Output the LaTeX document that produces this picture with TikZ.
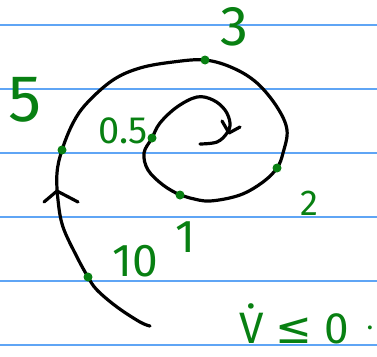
\documentclass[tikz,border=0pt]{standalone}
\usepackage{fontspec}
\setmainfont{Fira Sans}
\newfontfamily\symfont{DejaVu Sans}
\definecolor{rulingblue}{RGB}{95,165,245}
\definecolor{inkgreen}{RGB}{8,128,18}

\begin{document}
\begin{tikzpicture}[
    x=1pt,y=-1pt,
    ruling/.style={draw=rulingblue,line width=1.1pt},
    spiral/.style={line width=3.2pt,line cap=round,line join=round},
    lbl/.style={text=inkgreen,inner sep=0pt},
    big/.style={font=\fontsize{#1}{#1}\selectfont}
]
\useasboundingbox (0,0) rectangle (377,356);
\foreach \y in {25,89,153,217,281,345}
    \draw[ruling] (0,\y) -- (377,\y);

% marked points on the trajectory
\coordinate (t10)   at (88,277);
\coordinate (t5)    at (62,150);
\coordinate (t3)    at (205,60);
\coordinate (t2)    at (277,168);
\coordinate (t1)    at (180,195);
\coordinate (thalf) at (152,138);

\draw[spiral] plot[smooth,tension=0.6] coordinates {
    (150,326) (140,322) (117,307) (97,290) (t10) (77,257) (63,227) (58,200)
    (57,173) (t5) (73,123) (87,103) (113,80) (140,68) (173,62) (t3)
    (233,68) (257,83) (277,107) (287,130) (283,153) (t2) (263,182)
    (240,195) (210,201) (190,198) (t1) (163,185) (148,170) (144,153)
    (thalf) (160,123) (177,107) (197,97) (213,100) (225,110) (230,123)
    (227,133) (217,142) (200,144)};
\draw[spiral] (44,202) -- (57,191) -- (78,202);
\draw[spiral] (222,121) -- (229,133) -- (240,127);

\foreach \p in {t10,t5,t3,t2,t1,thalf}
    \fill[inkgreen] (\p) circle (4.5);

\node[lbl,big=56] (l3)    at (234,27)  {3};
\node[lbl,big=66] (l5)    at (25,100)  {5};
\node[lbl,big=38] (lhalf) at (123,131) {0.5};
\node[lbl,big=36] (l2)    at (309,203) {2};
\node[lbl,big=46] (l10)   at (135,261) {10};
\node[lbl,big=46] (l1)    at (185,237) {1};
\node[lbl,big=44,anchor=base] (vdot) at (294,343) {V̇ {\symfont≤} 0};
\node[lbl,big=28] (stop)  at (370,328) {.};
\end{tikzpicture}
\end{document}
